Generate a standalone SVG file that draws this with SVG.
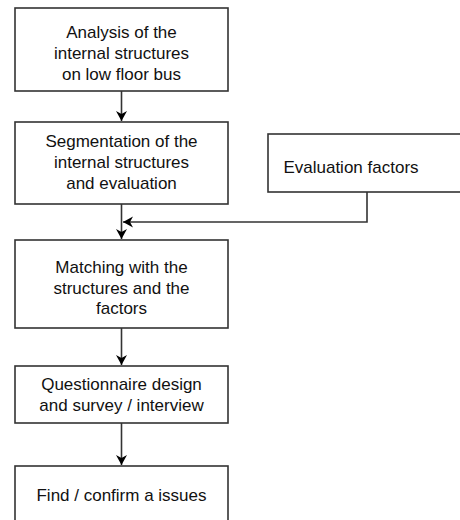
<svg xmlns="http://www.w3.org/2000/svg" width="460" height="520" viewBox="0 0 460 520">
<style>
.box{fill:#fff;stroke:#333;stroke-width:1.6}
.t{font-family:"Liberation Sans",Arial,sans-serif;font-size:17px;fill:#111;text-anchor:middle}
.c{fill:none;stroke:#333;stroke-width:1.6}
</style>
<defs>
<marker id="ah" viewBox="0 0 10 12" refX="10" refY="6" markerWidth="10" markerHeight="12" markerUnits="userSpaceOnUse" orient="auto">
<path d="M0,0.5 L10,6 L0,11.5 L3,6 Z" fill="#000"/>
</marker>
</defs>
<rect width="460" height="520" fill="#fff"/>
<g id="connectors">
<line class="c" x1="121.5" y1="91" x2="121.5" y2="121" marker-end="url(#ah)"/>
<line class="c" x1="121.5" y1="204" x2="121.5" y2="239" marker-end="url(#ah)"/>
<polyline class="c" points="367,192 367,222 123,222" marker-end="url(#ah)"/>
<line class="c" x1="121.5" y1="328" x2="121.5" y2="365" marker-end="url(#ah)"/>
<line class="c" x1="121.5" y1="423" x2="121.5" y2="465" marker-end="url(#ah)"/>
</g>
<g id="n1">
<rect class="box" x="15" y="8" width="213" height="83"/>
<text class="t" x="121.5" y="38">Analysis of the</text>
<text class="t" x="121.5" y="59">internal structures</text>
<text class="t" x="121.5" y="80">on low floor bus</text>
</g>
<g id="n2">
<rect class="box" x="15" y="122" width="213" height="82"/>
<text class="t" x="121.5" y="147">Segmentation of the</text>
<text class="t" x="121.5" y="168">internal structures</text>
<text class="t" x="121.5" y="189">and evaluation</text>
</g>
<g id="n_eval">
<rect class="box" x="268" y="134" width="200" height="58"/>
<text class="t" x="351" y="173">Evaluation factors</text>
</g>
<g id="n3">
<rect class="box" x="15" y="240" width="213" height="88"/>
<text class="t" x="121.5" y="273">Matching with the</text>
<text class="t" x="121.5" y="294">structures and the</text>
<text class="t" x="121.5" y="314">factors</text>
</g>
<g id="n4">
<rect class="box" x="15" y="366" width="213" height="57"/>
<text class="t" x="121.5" y="390">Questionnaire design</text>
<text class="t" x="121.5" y="411">and survey / interview</text>
</g>
<g id="n5">
<rect class="box" x="15" y="466" width="213" height="70"/>
<text class="t" x="121.5" y="501">Find / confirm a issues</text>
</g>
</svg>
